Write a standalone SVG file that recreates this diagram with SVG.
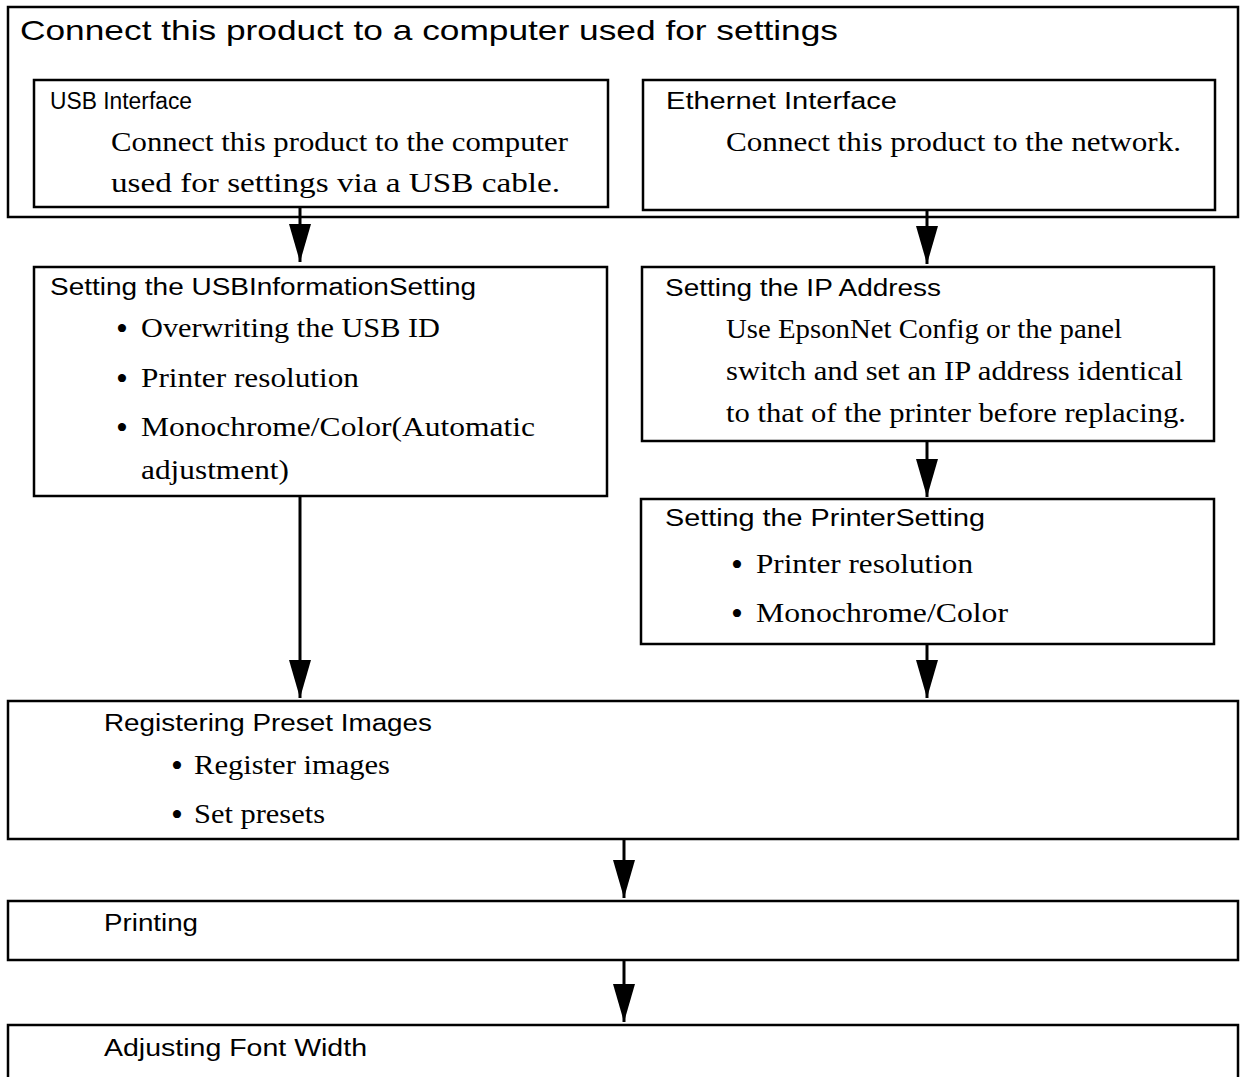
<svg xmlns="http://www.w3.org/2000/svg" width="1240" height="1077" viewBox="0 0 1240 1077">
<style>
.box{fill:#fff;stroke:#000;stroke-width:2.5}
.lbl{font-family:"Liberation Sans",Arial,sans-serif;font-size:23.5px;fill:#000}
.ttl{font-family:"Liberation Sans",Arial,sans-serif;font-size:28px;fill:#000}
.body{font-family:"Liberation Serif","Times New Roman",serif;font-size:26.5px;fill:#000}
.bul{font-family:"Liberation Serif","Times New Roman",serif;font-size:34px;fill:#000}
.conn{stroke:#000;stroke-width:3;fill:none;marker-end:url(#ah)}
</style>
<defs>
<marker id="ah" markerUnits="userSpaceOnUse" markerWidth="40" markerHeight="24" refX="38" refY="11" orient="auto" viewBox="0 0 40 24">
<path d="M0,0 L38,11 L0,22 Z" fill="#000"/>
</marker>
</defs>
<rect width="1240" height="1077" fill="#fff"/>
<g id="n-connect">
<rect class="box" x="8" y="7" width="1230" height="210"/>
<text class="ttl" x="20" y="40" textLength="818" lengthAdjust="spacingAndGlyphs">Connect this product to a computer used for settings</text>
</g>
<g id="n-usb">
<rect class="box" x="34" y="80" width="574" height="127"/>
<text class="lbl" x="50" y="109" textLength="142" lengthAdjust="spacingAndGlyphs">USB Interface</text>
<text class="body" x="111" y="151" textLength="457" lengthAdjust="spacingAndGlyphs">Connect this product to the computer</text>
<text class="body" x="111" y="192" textLength="449" lengthAdjust="spacingAndGlyphs">used for settings via a USB cable.</text>
</g>
<g id="n-ethernet">
<rect class="box" x="643" y="80" width="572" height="130"/>
<text class="lbl" x="666" y="109" textLength="231" lengthAdjust="spacingAndGlyphs">Ethernet Interface</text>
<text class="body" x="726" y="151" textLength="455" lengthAdjust="spacingAndGlyphs">Connect this product to the network.</text>
</g>
<g id="n-usbinfo">
<rect class="box" x="34" y="267" width="573" height="229"/>
<text class="lbl" x="50" y="295" textLength="426" lengthAdjust="spacingAndGlyphs">Setting the USBInformationSetting</text>
<text class="bul" x="116" y="340">•</text>
<text class="body" x="141" y="337" textLength="299" lengthAdjust="spacingAndGlyphs">Overwriting the USB ID</text>
<text class="bul" x="116" y="390">•</text>
<text class="body" x="141" y="387" textLength="218" lengthAdjust="spacingAndGlyphs">Printer resolution</text>
<text class="bul" x="116" y="439">•</text>
<text class="body" x="141" y="436" textLength="394" lengthAdjust="spacingAndGlyphs">Monochrome/Color(Automatic</text>
<text class="body" x="141" y="479" textLength="148" lengthAdjust="spacingAndGlyphs">adjustment)</text>
</g>
<g id="n-ip">
<rect class="box" x="642" y="267" width="572" height="174"/>
<text class="lbl" x="665" y="296" textLength="276" lengthAdjust="spacingAndGlyphs">Setting the IP Address</text>
<text class="body" x="726" y="338" textLength="396" lengthAdjust="spacingAndGlyphs">Use EpsonNet Config or the panel</text>
<text class="body" x="726" y="380" textLength="457" lengthAdjust="spacingAndGlyphs">switch and set an IP address identical</text>
<text class="body" x="726" y="422" textLength="460" lengthAdjust="spacingAndGlyphs">to that of the printer before replacing.</text>
</g>
<g id="n-printer">
<rect class="box" x="641" y="499" width="573" height="145"/>
<text class="lbl" x="665" y="526" textLength="320" lengthAdjust="spacingAndGlyphs">Setting the PrinterSetting</text>
<text class="bul" x="731" y="576">•</text>
<text class="body" x="756" y="573" textLength="217" lengthAdjust="spacingAndGlyphs">Printer resolution</text>
<text class="bul" x="731" y="625">•</text>
<text class="body" x="756" y="622" textLength="252" lengthAdjust="spacingAndGlyphs">Monochrome/Color</text>
</g>
<g id="n-register">
<rect class="box" x="8" y="701" width="1230" height="138"/>
<text class="lbl" x="104" y="731" textLength="328" lengthAdjust="spacingAndGlyphs">Registering Preset Images</text>
<text class="bul" x="171" y="777">•</text>
<text class="body" x="194" y="774" textLength="196" lengthAdjust="spacingAndGlyphs">Register images</text>
<text class="bul" x="171" y="826">•</text>
<text class="body" x="194" y="823" textLength="131" lengthAdjust="spacingAndGlyphs">Set presets</text>
</g>
<g id="n-printing">
<rect class="box" x="8" y="901" width="1230" height="59"/>
<text class="lbl" x="104" y="931" textLength="94" lengthAdjust="spacingAndGlyphs">Printing</text>
</g>
<g id="n-adjust">
<rect class="box" x="8" y="1025" width="1230" height="70"/>
<text class="lbl" x="104" y="1056" textLength="263" lengthAdjust="spacingAndGlyphs">Adjusting Font Width</text>
</g>
<g id="connectors">
<line class="conn" x1="300" y1="208" x2="300" y2="262"/>
<line class="conn" x1="927" y1="211" x2="927" y2="264"/>
<line class="conn" x1="927" y1="442" x2="927" y2="497"/>
<line class="conn" x1="300" y1="497" x2="300" y2="698"/>
<line class="conn" x1="927" y1="645" x2="927" y2="698"/>
<line class="conn" x1="624" y1="840" x2="624" y2="898"/>
<line class="conn" x1="624" y1="961" x2="624" y2="1022"/>
</g>
</svg>
